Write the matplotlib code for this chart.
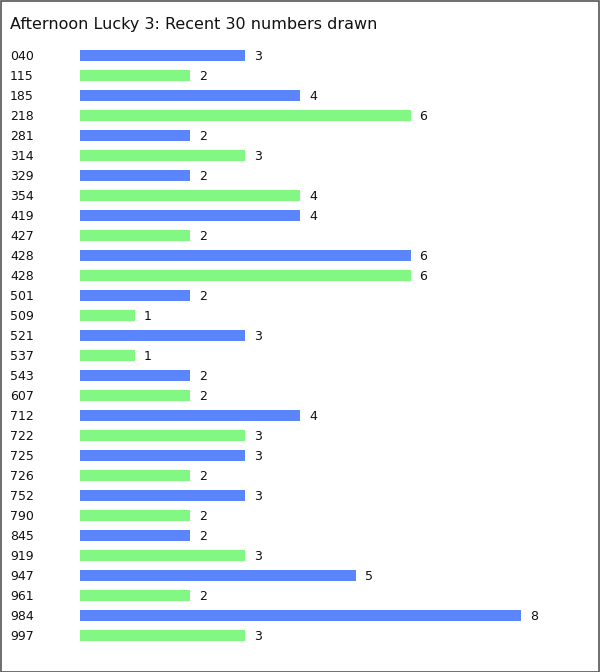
import matplotlib
matplotlib.use("Agg")
import matplotlib.pyplot as plt
from matplotlib.transforms import blended_transform_factory, offset_copy

numbers = ["040", "115", "185", "218", "281", "314", "329", "354", "419", "427",
           "428", "428", "501", "509", "521", "537", "543", "607", "712", "722",
           "725", "726", "752", "790", "845", "919", "947", "961", "984", "997"]
counts = [3, 2, 4, 6, 2, 3, 2, 4, 4, 2,
          6, 6, 2, 1, 3, 1, 2, 2, 4, 3,
          3, 2, 3, 2, 2, 3, 5, 2, 8, 3]
title = "Afternoon Lucky 3: Recent 30 numbers drawn"
colors = ["#5a85fc", "#82f783"]

W, H = 600, 672
fig = plt.figure(figsize=(W / 100, H / 100), dpi=100)
fig.patch.set_facecolor("white")
fig.patches.append(plt.Rectangle((0.5 / W, 0.5 / H), 1 - 1.5 / W, 1 - 1.5 / H,
                                 transform=fig.transFigure, fill=False,
                                 edgecolor="#555555", linewidth=1.2))

unit = 55.1
xmax = 9
ax = fig.add_axes([80 / W, (H - 645) / H, xmax * unit / W, 600 / H])
ax.set_xlim(0, xmax)
ax.set_ylim(len(numbers) - 0.5, -0.5)
ax.axis("off")

ypos = list(range(len(numbers)))
bar_colors = [colors[i % 2] for i in ypos]
ax.barh(ypos, counts, height=0.55, color=bar_colors, edgecolor="none")

label_tr = offset_copy(blended_transform_factory(fig.transFigure, ax.transData),
                       fig=fig, x=0, y=-1, units="dots")
value_tr = offset_copy(ax.transData, fig=fig, x=9, y=-1, units="dots")
for y, name, c in zip(ypos, numbers, counts):
    ax.text(10 / W, y, name, transform=label_tr, ha="left", va="center",
            fontsize=9, color="#111111", family="DejaVu Sans")
    ax.text(c, y, str(c), transform=value_tr,
            ha="left", va="center", fontsize=9, color="#111111", family="DejaVu Sans")

fig.text(10 / W, 1 - 24 / H, title, ha="left", va="center", fontsize=11.5,
         color="#111111", family="DejaVu Sans")

fig.savefig("out.png", dpi=100)
